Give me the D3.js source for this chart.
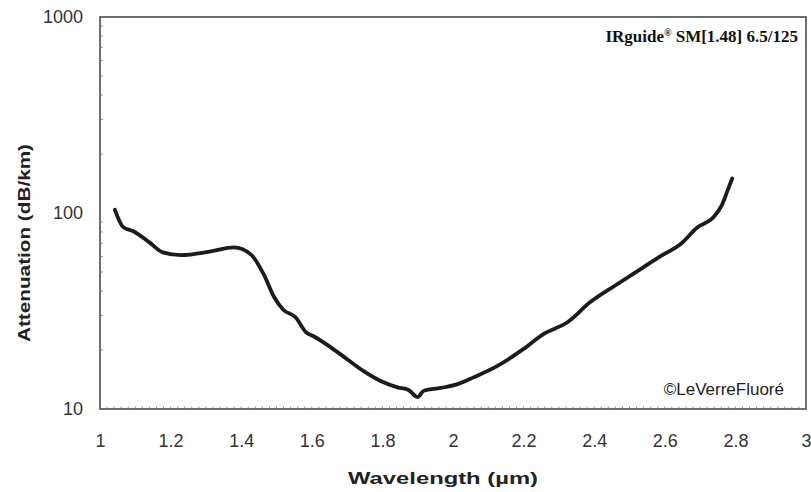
<!DOCTYPE html>
<html><head><meta charset="utf-8">
<script src="https://cdn.jsdelivr.net/npm/d3@7"></script>
<style>body{margin:0;background:#fff}svg{display:block}</style>
</head><body>
<svg id="c" width="811" height="492"></svg>
<script>
const wavelength = [1.042,1.065,1.096,1.139,1.178,1.229,1.314,1.379,1.427,1.464,1.492,1.52,1.554,1.583,1.605,1.653,1.701,1.747,1.795,1.843,1.874,1.900,1.917,1.965,2.013,2.058,2.126,2.199,2.256,2.324,2.389,2.465,2.539,2.587,2.644,2.692,2.737,2.762,2.779,2.791];
const attenuation = [104,85,80.5,71,63,61,63.7,66.7,61.5,48.6,37.6,32,29.4,24.7,23.5,20.7,17.9,15.6,13.9,12.9,12.5,11.5,12.4,12.8,13.4,14.5,16.6,20.2,24.1,27.7,35.1,43.3,52.8,60.1,69.2,84.3,94.9,110,132,150];
const xTicks = [1,1.2,1.4,1.6,1.8,2,2.2,2.4,2.6,2.8,3];
const yTicks = [10,100,1000];
const xTitle = "Wavelength (µm)";
const yTitle = "Attenuation (dB/km)";

const svg = d3.select("#c");
const L=100, R=806, T=17, B=409;
const x = d3.scaleLinear().domain([1,3]).range([L,R]);
const y = d3.scaleLog().domain([10,1000]).range([B,T]);
const SANS = "Liberation Sans, Arial, sans-serif";

// frame
svg.append("rect").attr("x",L).attr("y",T).attr("width",R-L).attr("height",B-T)
  .attr("fill","none").attr("stroke","#4a4a4a").attr("stroke-width",1.6);

// minor ticks along axes
const xMinor = d3.range(1,3.0001,0.02);
svg.append("g").selectAll("line").data(xMinor).join("line")
  .attr("x1",d=>x(d)).attr("x2",d=>x(d)).attr("y1",B).attr("y2",B-2.5)
  .attr("stroke","#777").attr("stroke-width",0.8);
const yMinor = [];
[10,100].forEach(b=>{for(let k=2;k<=9;k++) yMinor.push(b*k);});
svg.append("g").selectAll("line").data(yMinor).join("line")
  .attr("x1",L).attr("x2",L+3).attr("y1",d=>y(d)).attr("y2",d=>y(d))
  .attr("stroke","#777").attr("stroke-width",0.8);

// axes labels
const xa = svg.append("g").attr("transform",`translate(0,${B})`)
  .call(d3.axisBottom(x).tickValues(xTicks).tickFormat(d3.format("~g")).tickSize(0).tickPadding(25));
xa.select(".domain").remove();
xa.selectAll("text").attr("font-family",SANS).attr("font-size",18).attr("fill","#333");

const ya = svg.append("g").attr("transform",`translate(${L},0)`)
  .call(d3.axisLeft(y).tickValues(yTicks).tickFormat(d3.format("d")).tickSize(0).tickPadding(17));
ya.select(".domain").remove();
ya.selectAll("text").attr("font-family",SANS).attr("font-size",18).attr("fill","#333");

// titles
svg.append("text").attr("x",443).attr("y",484).attr("text-anchor","middle")
  .attr("font-family",SANS).attr("font-weight","bold").attr("font-size",17).attr("fill","#222")
  .attr("textLength",190).attr("lengthAdjust","spacingAndGlyphs")
  .text(xTitle);
svg.append("text").attr("transform","translate(30,243) rotate(-90)").attr("text-anchor","middle")
  .attr("font-family",SANS).attr("font-weight","bold").attr("font-size",17).attr("fill","#222")
  .attr("textLength",198).attr("lengthAdjust","spacingAndGlyphs")
  .text(yTitle);

// annotations
const ann = svg.append("text").attr("x",798).attr("y",42).attr("text-anchor","end")
  .attr("font-family","Liberation Serif, Times New Roman, serif").attr("font-weight","bold").attr("font-size",17).attr("fill","#111");
ann.append("tspan").text("IRguide");
ann.append("tspan").attr("font-size",10).attr("dy",-6).text("®");
ann.append("tspan").attr("dy",6).text(" SM[1.48] 6.5/125");
svg.append("text").attr("x",784).attr("y",395).attr("text-anchor","end")
  .attr("font-family",SANS).attr("font-size",17).attr("fill","#222")
  .text("©LeVerreFluoré");

// curve
const data = wavelength.map((w,i)=>[w,attenuation[i]]);
svg.append("path").datum(data)
  .attr("fill","none").attr("stroke","#1c1c1c").attr("stroke-width",3.8)
  .attr("stroke-linejoin","round").attr("stroke-linecap","round")
  .attr("d",d3.line().x(d=>x(d[0])).y(d=>y(d[1])).curve(d3.curveMonotoneX));
</script>
</body></html>
